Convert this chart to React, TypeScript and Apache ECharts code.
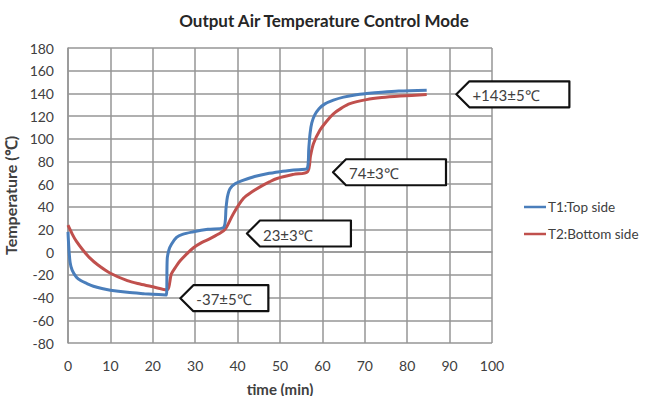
import React, { useEffect, useRef } from "react";
import * as echarts from "echarts";

const TITLE = "Output Air Temperature Control Mode";
const X_NAME = "time (min)";
const Y_NAME = "Temperature (℃)";

const T1_NAME = "T1:Top side";
const T1_TIME = [0, 0.2, 0.5, 1, 2, 3, 4.4, 6, 8, 10, 14, 18, 20, 23.2, 23.4, 23.8, 24.4, 25.6, 27, 29.6, 33, 36.7, 37.3, 37.6, 38.2, 39.5, 41.4, 44, 46.9, 50, 53.2, 56.4, 56.8, 57.1, 57.5, 58.2, 59.2, 60.5, 62.6, 65, 68, 70.4, 74, 78, 84.6];
const T1_TEMP = [18, 4, -9, -16, -22, -25, -27.5, -30, -32, -33.5, -35.3, -36.5, -37, -37.8, -6, 2, 7, 13, 15.8, 18, 20.2, 21.8, 40, 48.8, 56, 60.5, 63.5, 66.8, 69.2, 71, 72.5, 73.8, 92, 105, 114, 121, 126.5, 130.5, 134, 136.7, 138.8, 139.8, 141, 142, 142.8];

const T2_NAME = "T2:Bottom side";
const T2_TIME = [0, 1, 2, 3.6, 5, 7, 10, 14, 17, 20, 23.3, 24.4, 25.4, 26.4, 28, 29.6, 31.5, 33.5, 35.5, 37.1, 39, 41.4, 43.5, 45.3, 47.5, 49.3, 53.2, 56.5, 57.2, 57.9, 59.4, 61, 62.6, 64.5, 66.5, 70.4, 74, 78.3, 84.6];
const T2_TEMP = [23.8, 16, 9.5, 1.5, -4.5, -11, -18.5, -25, -28, -30.5, -33.2, -19, -13, -7.8, -1.5, 4, 8.5, 12, 16, 20.3, 34, 47.5, 53.5, 57.6, 62, 65, 68.6, 71, 85, 95.8, 107.5, 115.5, 122, 127, 131, 134.5, 136.3, 137.6, 139];

const CALLOUT_TEXT = ["-37±5℃", "23±3℃", "74±3℃", "+143±5℃"];
const CALLOUT_TIME = [26.5, 42.2, 62.5, 91.6];
const CALLOUT_TEMP = [-40.5, 16.5, 70.5, 139.2];
const CALLOUT_WIDTH = [88, 104, 113, 113];

const X_MIN = 0, X_MAX = 100, X_STEP = 10;
const Y_MIN = -80, Y_MAX = 180, Y_STEP = 20;

const FONT = "Lato, 'Open Sans', sans-serif";
const GRID_COLOR = "#969696";
const TEXT_COLOR = "#404040";

function zip(a: number[], b: number[]) {
  return a.map((v, i) => [v, b[i]]);
}

export default function App() {
  const ref = useRef<HTMLDivElement>(null);
  useEffect(() => {
    if (!ref.current) return;
    const chart = echarts.init(ref.current, undefined, { renderer: "svg" });
    chart.setOption({
      animation: false,
      backgroundColor: "#ffffff",
      textStyle: { fontFamily: FONT },
      title: {
        text: TITLE,
        left: 319,
        top: 7,
        textAlign: "center",
        textStyle: { fontFamily: FONT, fontSize: 17, fontWeight: "bold", color: "#262626" },
      },
      grid: { left: 68, right: 155, top: 48, bottom: 53, containLabel: false, outerBoundsMode: "none" },
      legend: {
        orient: "vertical",
        left: 519,
        top: 195,
        itemWidth: 22,
        itemHeight: 14,
        itemGap: 13,
        icon: "path://M0,6 L22,6 L22,8.5 L0,8.5 Z",
        textStyle: { fontFamily: FONT, fontSize: 13.5, color: TEXT_COLOR, padding: [0, 0, 0, -3] },
        data: [T1_NAME, T2_NAME],
      },
      xAxis: {
        type: "value",
        min: X_MIN,
        max: X_MAX,
        interval: X_STEP,
        name: X_NAME,
        nameLocation: "middle",
        nameGap: 38,
        nameTextStyle: { fontFamily: FONT, fontSize: 15, fontWeight: "bold", color: TEXT_COLOR },
        axisLine: { show: true, lineStyle: { color: GRID_COLOR, width: 1.5 } },
        axisTick: { show: false },
        axisLabel: { fontFamily: FONT, fontSize: 14, color: TEXT_COLOR, margin: 15 },
        splitLine: { show: true, lineStyle: { color: GRID_COLOR, width: 1.5 } },
      },
      yAxis: {
        type: "value",
        min: Y_MIN,
        max: Y_MAX,
        interval: Y_STEP,
        name: Y_NAME,
        nameLocation: "middle",
        nameGap: 38,
        nameRotate: 90,
        nameTextStyle: { fontFamily: FONT, fontSize: 16, fontWeight: "bold", color: TEXT_COLOR },
        axisLine: { show: true, lineStyle: { color: GRID_COLOR, width: 1.5 } },
        axisTick: { show: false },
        axisLabel: { fontFamily: FONT, fontSize: 14, color: TEXT_COLOR, margin: 14 },
        splitLine: { show: true, lineStyle: { color: GRID_COLOR, width: 1.5 } },
      },
      series: [
        {
          name: T1_NAME,
          type: "line",
          data: zip(T1_TIME, T1_TEMP),
          showSymbol: false,
          smooth: 0.3,
          lineStyle: { color: "#4a7ebb", width: 3 },
          itemStyle: { color: "#4a7ebb" },
          z: 3,
        },
        {
          name: T2_NAME,
          type: "line",
          data: zip(T2_TIME, T2_TEMP),
          showSymbol: false,
          smooth: 0.3,
          lineStyle: { color: "#c0504d", width: 3 },
          itemStyle: { color: "#c0504d" },
          z: 2,
        },
      ],
    });

    const H = 26;
    const D = 13;
    const graphics = CALLOUT_TEXT.map((txt, i) => {
      const p = chart.convertToPixel({ gridIndex: 0 }, [CALLOUT_TIME[i], CALLOUT_TEMP[i]]) as number[];
      const w = CALLOUT_WIDTH[i];
      return {
        type: "group",
        x: p[0],
        y: p[1],
        z: 10,
        children: [
          {
            type: "polygon",
            shape: {
              points: [
                [0, 0],
                [D, -H / 2],
                [w, -H / 2],
                [w, H / 2],
                [D, H / 2],
              ],
            },
            style: { fill: "#ffffff", stroke: "#111111", lineWidth: 2.2, lineJoin: "round" },
          },
          {
            type: "text",
            x: D + 3,
            y: 1,
            style: {
              text: txt,
              fontFamily: FONT,
              fontSize: 15,
              fill: TEXT_COLOR,
              verticalAlign: "middle",
              align: "left",
            },
          },
        ],
      };
    });
    chart.setOption({ graphic: graphics });

    return () => chart.dispose();
  }, []);
  return (
    <div
      ref={ref}
      style={{ position: "fixed", left: 0, top: 0, width: 647, height: 396 }}
    />
  );
}
